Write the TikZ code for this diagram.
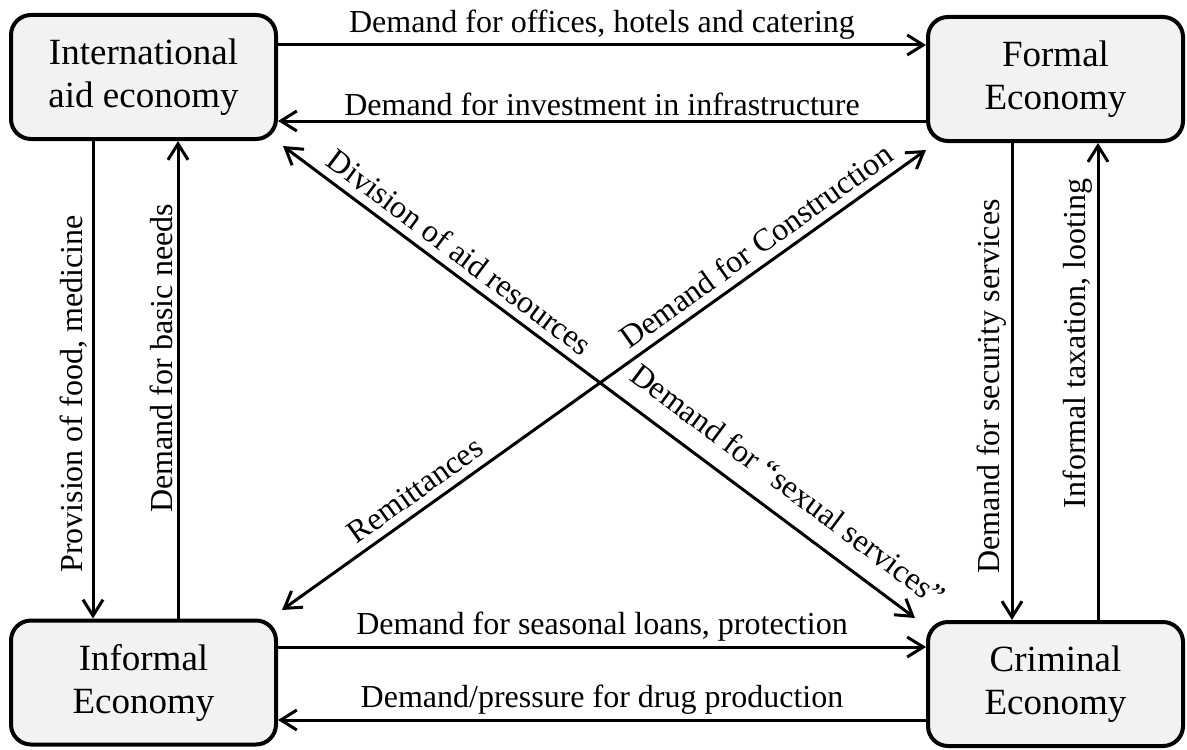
\documentclass[tikz,border=0pt]{standalone}
\usepackage{fontspec}
\setmainfont{Liberation Serif}
\usetikzlibrary{arrows.meta}
\definecolor{boxgray}{HTML}{F2F2F2}
\begin{document}
\begin{tikzpicture}[x=0.5pt,y=-0.5pt,
  box/.style={draw=black, line width=2pt, fill=boxgray, rounded corners=10pt,
    align=center, font=\fontsize{18.5}{21.5}\selectfont, inner sep=0pt},
  lbox/.style={box, minimum width=132.5pt, minimum height=62pt},
  rbox/.style={box, minimum width=127.5pt, minimum height=62pt},
  tip/.tip={Straight Barb[length=8pt,width=10pt]},
  arr/.style={line width=1.5pt, -tip},
  darr/.style={line width=1.5pt, tip-tip},
  lab/.style={font=\fontsize{16}{19}\selectfont, inner sep=2pt},
  vlab/.style={lab, rotate=90, anchor=south},
]
\useasboundingbox (0,0) rectangle (1187,749);

\node[lbox] (intl)   at (143.5,77)    {International\\aid economy};
\node[rbox] (formal) at (1055.5,79)   {Formal\\Economy};
\node[lbox] (inf)    at (143.5,682.5) {Informal\\Economy};
\node[rbox] (crim)   at (1055.5,684)  {Criminal\\Economy};

% horizontal connectors
\draw[arr] (intl.east |- 0,45) -- (formal.west |- 0,45)
  node[lab, midway, above] {Demand for offices, hotels and catering};
\draw[arr] (formal.west |- 0,121) -- (intl.east |- 0,121)
  node[lab, midway, above] {Demand for investment in infrastructure};
\draw[arr] (inf.east |- 0,647) -- (crim.west |- 0,647)
  node[lab, midway, above] {Demand for seasonal loans, protection};
\draw[arr] (crim.west |- 0,720) -- (inf.east |- 0,720)
  node[lab, midway, above] {Demand/pressure for drug production};

% vertical connectors
\draw[arr] (intl.south -| 93,0) -- (inf.north -| 93,0)
  node[vlab, pos=0.53] {Provision of food, medicine};
\draw[arr] (inf.north -| 178,0) -- (intl.south -| 178,0)
  node[vlab, pos=0.545] {Demand for basic needs};
\draw[arr] (formal.south -| 1012,0) -- (crim.north -| 1012,0)
  node[vlab, pos=0.51] {Demand for security services};
\draw[arr] (crim.north -| 1098,0) -- (formal.south -| 1098,0)
  node[vlab, pos=0.58] {Informal taxation, looting};

% diagonal connectors
\draw[darr] ([shift={(5,5)}]intl.south east) -- ([shift={(-11,-2)}]crim.north west)
  node[lab, pos=0.26, sloped, above=2pt] {Division of aid resources}
  node[lab, pos=0.77, sloped, above=7pt] {Demand for “sexual services”};
\draw[darr] ([shift={(4,-8.5)}]inf.north east) -- ([shift={(0,7)}]formal.south west)
  node[lab, pos=0.225, sloped, above=2pt] {Remittances}
  node[lab, pos=0.755, sloped, above=2pt] {Demand for Construction};
\end{tikzpicture}
\end{document}
